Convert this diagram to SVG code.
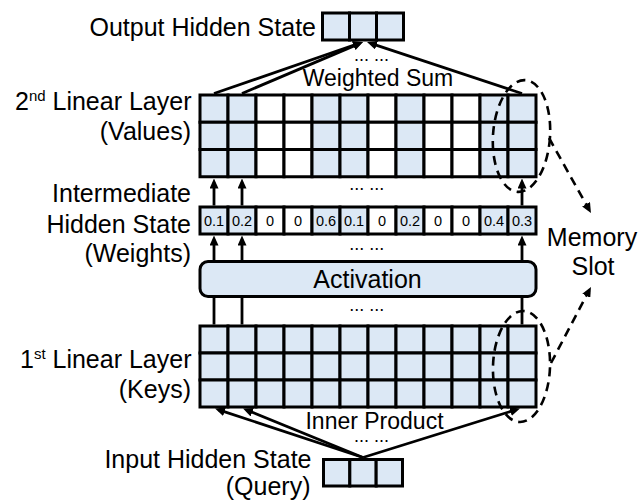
<svg xmlns="http://www.w3.org/2000/svg" width="639" height="502" viewBox="0 0 639 502">
<style>
.c{fill:#dce8f5;stroke:#000;stroke-width:3}
.w{fill:#fff;stroke:#000;stroke-width:3}
.ln{fill:none;stroke:#000;stroke-width:2.8}
.ar{fill:none;stroke:#000;stroke-width:2.8;marker-end:url(#ah)}
.dsh{fill:none;stroke:#000;stroke-width:2.6;stroke-dasharray:9 6}
.da{fill:none;stroke:#000;stroke-width:2.6;stroke-dasharray:9 6;marker-end:url(#ah)}
text{font-family:"Liberation Sans",Arial,sans-serif;fill:#000}
.lb{font-size:25px}
.sm{font-size:23px}
.dt{font-size:18px;text-anchor:middle}
.nm{font-size:14.5px;text-anchor:middle}
.e{text-anchor:end}
.m{text-anchor:middle}
</style>
<defs>
<marker id="ah" markerUnits="userSpaceOnUse" markerWidth="10" markerHeight="9" refX="6" refY="4.5" orient="auto" viewBox="0 0 10 9">
<path d="M0,0 L10,4.5 L0,9 z" fill="#000"/>
</marker>
</defs>

<g id="node-output">
<rect class="c" x="322.5" y="13" width="27" height="27"/>
<rect class="c" x="349.5" y="13" width="27" height="27"/>
<rect class="c" x="376.5" y="13" width="27" height="27"/>
</g>

<g id="node-values">
<g id="values-row1">
<rect class="c" x="200" y="95" width="28" height="27.25"/><rect class="c" x="228" y="95" width="28" height="27.25"/><rect class="w" x="256" y="95" width="28" height="27.25"/><rect class="w" x="284" y="95" width="28" height="27.25"/><rect class="c" x="312" y="95" width="28" height="27.25"/><rect class="c" x="340" y="95" width="28" height="27.25"/><rect class="w" x="368" y="95" width="28" height="27.25"/><rect class="c" x="396" y="95" width="28" height="27.25"/><rect class="w" x="424" y="95" width="28" height="27.25"/><rect class="w" x="452" y="95" width="28" height="27.25"/><rect class="c" x="480" y="95" width="28" height="27.25"/><rect class="c" x="508" y="95" width="28" height="27.25"/>
</g>
<g id="values-row2">
<rect class="c" x="200" y="122.25" width="28" height="27.25"/><rect class="c" x="228" y="122.25" width="28" height="27.25"/><rect class="w" x="256" y="122.25" width="28" height="27.25"/><rect class="w" x="284" y="122.25" width="28" height="27.25"/><rect class="c" x="312" y="122.25" width="28" height="27.25"/><rect class="c" x="340" y="122.25" width="28" height="27.25"/><rect class="w" x="368" y="122.25" width="28" height="27.25"/><rect class="c" x="396" y="122.25" width="28" height="27.25"/><rect class="w" x="424" y="122.25" width="28" height="27.25"/><rect class="w" x="452" y="122.25" width="28" height="27.25"/><rect class="c" x="480" y="122.25" width="28" height="27.25"/><rect class="c" x="508" y="122.25" width="28" height="27.25"/>
</g>
<g id="values-row3">
<rect class="c" x="200" y="149.5" width="28" height="27.25"/><rect class="c" x="228" y="149.5" width="28" height="27.25"/><rect class="w" x="256" y="149.5" width="28" height="27.25"/><rect class="w" x="284" y="149.5" width="28" height="27.25"/><rect class="c" x="312" y="149.5" width="28" height="27.25"/><rect class="c" x="340" y="149.5" width="28" height="27.25"/><rect class="w" x="368" y="149.5" width="28" height="27.25"/><rect class="c" x="396" y="149.5" width="28" height="27.25"/><rect class="w" x="424" y="149.5" width="28" height="27.25"/><rect class="w" x="452" y="149.5" width="28" height="27.25"/><rect class="c" x="480" y="149.5" width="28" height="27.25"/><rect class="c" x="508" y="149.5" width="28" height="27.25"/>
</g>
</g>

<g id="node-weights">
<rect class="c" x="200" y="207" width="28" height="27"/><rect class="c" x="228" y="207" width="28" height="27"/><rect class="w" x="256" y="207" width="28" height="27"/><rect class="w" x="284" y="207" width="28" height="27"/><rect class="c" x="312" y="207" width="28" height="27"/><rect class="c" x="340" y="207" width="28" height="27"/><rect class="w" x="368" y="207" width="28" height="27"/><rect class="c" x="396" y="207" width="28" height="27"/><rect class="w" x="424" y="207" width="28" height="27"/><rect class="w" x="452" y="207" width="28" height="27"/><rect class="c" x="480" y="207" width="28" height="27"/><rect class="c" x="508" y="207" width="28" height="27"/>
<text class="nm" x="214" y="225.5">0.1</text>
<text class="nm" x="242" y="225.5">0.2</text>
<text class="nm" x="270" y="225.5">0</text>
<text class="nm" x="298" y="225.5">0</text>
<text class="nm" x="326" y="225.5">0.6</text>
<text class="nm" x="354" y="225.5">0.1</text>
<text class="nm" x="382" y="225.5">0</text>
<text class="nm" x="410" y="225.5">0.2</text>
<text class="nm" x="438" y="225.5">0</text>
<text class="nm" x="466" y="225.5">0</text>
<text class="nm" x="494" y="225.5">0.4</text>
<text class="nm" x="522" y="225.5">0.3</text>
</g>

<g id="node-activation">
<rect class="c" x="200" y="261.5" width="336" height="35" rx="8" ry="8"/>
<text class="lb m" x="367.5" y="288">Activation</text>
</g>

<g id="node-keys">
<g id="keys-row1">
<rect class="c" x="200" y="326" width="28" height="27"/><rect class="c" x="228" y="326" width="28" height="27"/><rect class="c" x="256" y="326" width="28" height="27"/><rect class="c" x="284" y="326" width="28" height="27"/><rect class="c" x="312" y="326" width="28" height="27"/><rect class="c" x="340" y="326" width="28" height="27"/><rect class="c" x="368" y="326" width="28" height="27"/><rect class="c" x="396" y="326" width="28" height="27"/><rect class="c" x="424" y="326" width="28" height="27"/><rect class="c" x="452" y="326" width="28" height="27"/><rect class="c" x="480" y="326" width="28" height="27"/><rect class="c" x="508" y="326" width="28" height="27"/>
</g>
<g id="keys-row2">
<rect class="c" x="200" y="353" width="28" height="27"/><rect class="c" x="228" y="353" width="28" height="27"/><rect class="c" x="256" y="353" width="28" height="27"/><rect class="c" x="284" y="353" width="28" height="27"/><rect class="c" x="312" y="353" width="28" height="27"/><rect class="c" x="340" y="353" width="28" height="27"/><rect class="c" x="368" y="353" width="28" height="27"/><rect class="c" x="396" y="353" width="28" height="27"/><rect class="c" x="424" y="353" width="28" height="27"/><rect class="c" x="452" y="353" width="28" height="27"/><rect class="c" x="480" y="353" width="28" height="27"/><rect class="c" x="508" y="353" width="28" height="27"/>
</g>
<g id="keys-row3">
<rect class="c" x="200" y="380" width="28" height="27"/><rect class="c" x="228" y="380" width="28" height="27"/><rect class="c" x="256" y="380" width="28" height="27"/><rect class="c" x="284" y="380" width="28" height="27"/><rect class="c" x="312" y="380" width="28" height="27"/><rect class="c" x="340" y="380" width="28" height="27"/><rect class="c" x="368" y="380" width="28" height="27"/><rect class="c" x="396" y="380" width="28" height="27"/><rect class="c" x="424" y="380" width="28" height="27"/><rect class="c" x="452" y="380" width="28" height="27"/><rect class="c" x="480" y="380" width="28" height="27"/><rect class="c" x="508" y="380" width="28" height="27"/>
</g>
</g>

<g id="node-input">
<rect class="c" x="323.5" y="459.5" width="26.33" height="26.5"/>
<rect class="c" x="349.83" y="459.5" width="26.33" height="26.5"/>
<rect class="c" x="376.17" y="459.5" width="26.33" height="26.5"/>
</g>

<g id="node-memory-slot">
<ellipse class="dsh" cx="521.5" cy="136" rx="28.5" ry="56" transform="rotate(4 521.5 136)"/>
<ellipse class="dsh" cx="521.5" cy="366.5" rx="28.5" ry="55.5" transform="rotate(2 521.5 366.5)"/>
<text class="lb m" x="592" y="246">Memory</text>
<text class="lb m" x="593" y="275">Slot</text>
</g>

<g id="connectors">
<path class="ar" d="M214,93.5 L359.2,43.3"/>
<path class="ar" d="M242,93.5 L359.3,43.6"/>
<path class="ar" d="M522,93.5 L370.8,43.3"/>
<path class="ar" d="M214,205.5 L214,182.5"/>
<path class="ar" d="M242,205.5 L242,182.5"/>
<path class="ar" d="M522,205.5 L522,182.5"/>
<path class="ar" d="M214,260 L214,239.5"/>
<path class="ar" d="M242,260 L242,239.5"/>
<path class="ar" d="M522,260 L522,239.5"/>
<path class="ln" d="M214,298 L214,324.5"/>
<path class="ln" d="M242,298 L242,324.5"/>
<path class="ln" d="M522,298 L522,324.5"/>
<path class="ar" d="M363,457.5 L218.8,409.8"/>
<path class="ar" d="M363,457.5 L246.7,410"/>
<path class="ar" d="M363,457.5 L516.2,409.7"/>
<path class="da" d="M549,138 L589,209.5"/>
<path class="da" d="M551,363 L589.1,290.5"/>
</g>

<g id="labels">
<text class="lb e" x="316" y="36">Output Hidden State</text>
<text class="lb e" x="191.5" y="110">2<tspan font-size="15px" dy="-9">nd</tspan><tspan dy="9"> Linear Layer</tspan></text>
<text class="lb e" x="191" y="140">(Values)</text>
<text class="lb e" x="191" y="202">Intermediate</text>
<text class="lb e" x="191" y="232.5">Hidden State</text>
<text class="lb e" x="191" y="262">(Weights)</text>
<text class="lb e" x="191.5" y="368">1<tspan font-size="15px" dy="-9">st</tspan><tspan dy="9"> Linear Layer</tspan></text>
<text class="lb e" x="191" y="397.5">(Keys)</text>
<text class="lb e" x="311.5" y="467.5">Input Hidden State</text>
<text class="lb e" x="310.5" y="495">(Query)</text>
<text class="sm m" x="378" y="86">Weighted Sum</text>
<text class="sm m" x="374.5" y="428.5">Inner Product</text>
<text class="dt" x="371.5" y="61">... ...</text>
<text class="dt" x="366.7" y="190">... ...</text>
<text class="dt" x="366.7" y="250">... ...</text>
<text class="dt" x="366.7" y="311">... ...</text>
<text class="dt" x="371.5" y="442">... ...</text>
</g>
</svg>
